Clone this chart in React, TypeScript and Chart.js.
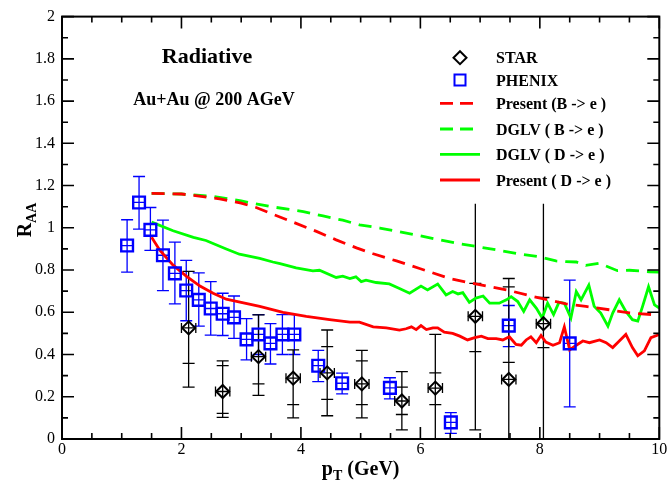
import React, { useEffect, useRef } from "react";
import { Chart, registerables } from "chart.js";

Chart.register(...registerables);

// ---------------- data ----------------
const starX = [2.12, 2.69, 3.29, 3.87, 4.44, 5.02, 5.69, 6.25, 6.92, 7.48, 8.06];
const starY = [0.526, 0.225, 0.39, 0.288, 0.313, 0.261, 0.18, 0.241, 0.581, 0.282, 0.546];
const starHi = [0.794, 0.37, 0.588, 0.422, 0.516, 0.42, 0.319, 0.495, 1.114, 0.76, 1.114];
const starLo = [0.246, 0.102, 0.207, 0.1, 0.11, 0.1, 0.043, 0, 0.043, 0, 0];
const starSysHi = [null, 0.347, null, null, 0.437, 0.37, 0.246, 0.313, 0.737, 0.72, 0.67];
const starSysLo = [0.358, 0.121, 0.261, 0.163, 0.188, 0.163, 0.116, 0.163, 0.414, 0.363, 0.433];
const starXErr = [0.12, 0.12, 0.12, 0.12, 0.12, 0.12, 0.12, 0.12, 0.12, 0.12, 0.12];

const phenixX = [1.09, 1.29, 1.48, 1.69, 1.89, 2.08, 2.29, 2.49, 2.69, 2.88, 3.09, 3.29, 3.49, 3.69, 3.89, 4.29, 4.69, 5.49, 6.51, 7.48, 8.5];
const phenixY = [0.916, 1.12, 0.99, 0.87, 0.784, 0.703, 0.659, 0.618, 0.593, 0.576, 0.472, 0.495, 0.453, 0.495, 0.495, 0.347, 0.264, 0.242, 0.079, 0.537, 0.453];
const phenixHi = [1.038, 1.243, 1.096, 1.036, 0.932, 0.846, 0.787, 0.745, 0.69, 0.677, 0.57, 0.589, 0.546, 0.589, 0.589, 0.42, 0.312, 0.29, 0.125, 0.632, 0.752];
const phenixLo = [0.79, 0.994, 0.893, 0.703, 0.64, 0.56, 0.534, 0.492, 0.49, 0.476, 0.375, 0.4, 0.355, 0.4, 0.4, 0.272, 0.214, 0.19, 0.027, 0.437, 0.152];

// Present (B -> e), dashed red
const presentBX = [1.5, 2.0, 2.36, 2.64, 3.0, 3.25, 3.53, 3.92, 4.26, 4.59, 4.93, 5.21, 5.6, 6.0, 6.49, 6.85, 7.49, 7.88, 8.44, 8.77, 9.16, 9.5, 9.89, 10.0];
const presentBY = [1.163, 1.16, 1.148, 1.137, 1.117, 1.096, 1.064, 1.021, 0.983, 0.943, 0.905, 0.877, 0.843, 0.806, 0.76, 0.738, 0.703, 0.675, 0.64, 0.628, 0.612, 0.597, 0.589, 0.589];

// DGLV (B -> e), dashed green
const dglvBX = [1.5, 2.0, 2.5, 3.0, 3.5, 4.04, 4.37, 4.7, 4.98, 5.32, 5.65, 5.99, 6.32, 6.66, 6.99, 7.32, 7.71, 7.99, 8.27, 8.44, 8.61, 8.77, 9.0, 9.3, 9.5, 9.67, 9.83, 10.0];
const dglvBY = [1.163, 1.16, 1.15, 1.127, 1.1, 1.077, 1.056, 1.036, 1.014, 0.999, 0.981, 0.963, 0.943, 0.924, 0.909, 0.893, 0.874, 0.863, 0.843, 0.84, 0.838, 0.822, 0.832, 0.797, 0.799, 0.796, 0.792, 0.79];

// DGLV (D -> e), solid green
const dglvDX = [1.5, 1.86, 2.2, 2.41, 2.75, 2.97, 3.31, 3.53, 3.65, 3.92, 4.2, 4.31, 4.59, 4.7, 4.82, 4.92, 5.01, 5.09, 5.26, 5.48, 5.65, 5.82, 6.01, 6.12, 6.29, 6.43, 6.54, 6.63, 6.71, 6.82, 6.93, 7.05, 7.16, 7.32, 7.44, 7.52, 7.63, 7.73, 7.83, 7.94, 8.04, 8.13, 8.23, 8.32, 8.41, 8.52, 8.61, 8.69, 8.82, 8.91, 9.02, 9.14, 9.22, 9.33, 9.44, 9.55, 9.64, 9.72, 9.82, 9.92, 10.0];
const dglvDY = [1.027, 0.986, 0.955, 0.94, 0.9, 0.875, 0.855, 0.838, 0.83, 0.81, 0.796, 0.799, 0.765, 0.771, 0.76, 0.768, 0.745, 0.752, 0.741, 0.734, 0.713, 0.69, 0.724, 0.706, 0.734, 0.682, 0.698, 0.687, 0.693, 0.647, 0.667, 0.677, 0.643, 0.643, 0.659, 0.674, 0.651, 0.604, 0.659, 0.62, 0.573, 0.643, 0.589, 0.647, 0.643, 0.573, 0.698, 0.659, 0.729, 0.628, 0.596, 0.534, 0.596, 0.659, 0.604, 0.565, 0.558, 0.628, 0.721, 0.635, 0.62];

// Present (D -> e), solid red
const presentDX = [1.5, 1.64, 1.86, 2.08, 2.31, 2.53, 2.75, 2.98, 3.31, 3.7, 4.09, 4.48, 4.82, 4.98, 5.21, 5.43, 5.65, 5.76, 5.85, 5.93, 6.01, 6.1, 6.21, 6.29, 6.4, 6.54, 6.66, 6.79, 6.91, 7.02, 7.13, 7.27, 7.38, 7.49, 7.6, 7.69, 7.77, 7.85, 7.94, 8.02, 8.1, 8.22, 8.33, 8.41, 8.5, 8.61, 8.72, 8.83, 9.0, 9.11, 9.22, 9.33, 9.44, 9.55, 9.64, 9.75, 9.86, 10.0];
const presentDY = [0.955, 0.893, 0.823, 0.771, 0.724, 0.69, 0.662, 0.648, 0.628, 0.6, 0.581, 0.565, 0.553, 0.553, 0.531, 0.526, 0.516, 0.522, 0.531, 0.518, 0.537, 0.518, 0.526, 0.526, 0.506, 0.5, 0.487, 0.469, 0.48, 0.487, 0.475, 0.475, 0.469, 0.484, 0.448, 0.444, 0.469, 0.484, 0.456, 0.49, 0.459, 0.444, 0.456, 0.531, 0.422, 0.444, 0.464, 0.456, 0.469, 0.456, 0.433, 0.464, 0.495, 0.433, 0.394, 0.417, 0.48, 0.495];

const legendLabels = ["STAR", "PHENIX", "Present (B -> e )", "DGLV ( B -> e )", "DGLV ( D -> e )", "Present ( D -> e )"];
const titleText = "Radiative";
const subtitleText = "Au+Au @ 200 AGeV";

// ---------------- styles ----------------
const RED = "#ff0000";
const GREEN = "#00ff00";
const BLUE = "#0000ff";
const SERIF = "'Liberation Serif', 'Times New Roman', serif";

const pts = (xs: number[], ys: number[]) => xs.map((x, i) => ({ x, y: ys[i] }));

const customPlugin = {
  id: "custom",
  beforeDatasetsDraw(chart: any) {
    const ctx = chart.ctx;
    const xs = chart.scales.x;
    const ys = chart.scales.y;
    ctx.save();
    // PHENIX error bars
    ctx.strokeStyle = BLUE;
    ctx.lineWidth = 1.3;
    phenixX.forEach((x, i) => {
      const px = xs.getPixelForValue(x);
      const ph = ys.getPixelForValue(phenixHi[i]);
      const pl = ys.getPixelForValue(phenixLo[i]);
      const py = ys.getPixelForValue(phenixY[i]);
      ctx.beginPath();
      ctx.moveTo(px, ph); ctx.lineTo(px, pl);
      ctx.moveTo(px - 6, ph); ctx.lineTo(px + 6, ph);
      ctx.moveTo(px - 6, pl); ctx.lineTo(px + 6, pl);
      ctx.moveTo(px - 5.5, py); ctx.lineTo(px + 5.5, py);
      ctx.stroke();
    });
    // STAR error bars
    ctx.strokeStyle = "#000";
    ctx.lineWidth = 1.3;
    starX.forEach((x, i) => {
      const px = xs.getPixelForValue(x);
      const py = ys.getPixelForValue(starY[i]);
      const ph = ys.getPixelForValue(starHi[i]);
      const pl = ys.getPixelForValue(starLo[i]);
      ctx.beginPath();
      ctx.moveTo(px, ph); ctx.lineTo(px, pl);
      const caps: number[] = [];
      if (starHi[i] < 1.05) caps.push(ph);
      if (starLo[i] > 0) caps.push(pl);
      if (starSysHi[i] != null) caps.push(ys.getPixelForValue(starSysHi[i] as number));
      if (starSysLo[i] != null) caps.push(ys.getPixelForValue(starSysLo[i] as number));
      caps.forEach((c) => { ctx.moveTo(px - 6, c); ctx.lineTo(px + 6, c); });
      const xl = xs.getPixelForValue(x - starXErr[i]);
      const xr = xs.getPixelForValue(x + starXErr[i]);
      ctx.moveTo(xl, py); ctx.lineTo(xr, py);
      ctx.moveTo(xl, py - 5); ctx.lineTo(xl, py + 5);
      ctx.moveTo(xr, py - 5); ctx.lineTo(xr, py + 5);
      ctx.stroke();
    });
    ctx.restore();
  },
  afterDatasetsDraw(chart: any) {
    const ctx = chart.ctx;
    const a = chart.chartArea;
    const xs = chart.scales.x;
    const ys = chart.scales.y;
    ctx.save();
    // frame
    ctx.strokeStyle = "#000";
    ctx.lineWidth = 2;
    ctx.strokeRect(a.left, a.top, a.right - a.left, a.bottom - a.top);
    // ticks
    ctx.lineWidth = 1.6;
    ctx.beginPath();
    for (let k = 0; k <= 20; k++) {
      const v = k * 0.5;
      const px = xs.getPixelForValue(v);
      const len = k % 4 === 0 ? 12 : 6;
      ctx.moveTo(px, a.bottom); ctx.lineTo(px, a.bottom - len);
      ctx.moveTo(px, a.top); ctx.lineTo(px, a.top + len);
    }
    for (let k = 0; k <= 20; k++) {
      const v = k * 0.1;
      const py = ys.getPixelForValue(v);
      const len = k % 2 === 0 ? 12 : 6;
      ctx.moveTo(a.left, py); ctx.lineTo(a.left + len, py);
      ctx.moveTo(a.right, py); ctx.lineTo(a.right - len, py);
    }
    ctx.stroke();

    // titles inside plot
    ctx.fillStyle = "#000";
    ctx.textAlign = "center";
    ctx.textBaseline = "alphabetic";
    ctx.font = `bold 22px ${SERIF}`;
    ctx.fillText(titleText, 207, 63);
    ctx.font = `bold 18px ${SERIF}`;
    ctx.fillText(subtitleText, 214, 105);

    // legend
    const rows = [57.7, 80, 103.3, 129, 154.3, 180];
    const symX = 460, lineL = 440, lineR = 480, textX = 496;
    ctx.font = `bold 16px ${SERIF}`;
    ctx.textAlign = "left";
    rows.forEach((ry, i) => {
      ctx.fillStyle = "#000";
      ctx.fillText(legendLabels[i], textX, ry + 5.5);
    });
    // STAR diamond
    ctx.strokeStyle = "#000";
    ctx.lineWidth = 2;
    ctx.beginPath();
    ctx.moveTo(symX, rows[0] - 6.5); ctx.lineTo(symX + 6.5, rows[0]);
    ctx.lineTo(symX, rows[0] + 6.5); ctx.lineTo(symX - 6.5, rows[0]); ctx.closePath();
    ctx.stroke();
    // PHENIX square
    ctx.strokeStyle = BLUE;
    ctx.strokeRect(symX - 5.5, rows[1] - 5.5, 11, 11);
    const legLine = (y: number, color: string, dashed: boolean) => {
      ctx.strokeStyle = color;
      ctx.lineWidth = 2.8;
      ctx.setLineDash(dashed ? [13, 7] : []);
      ctx.beginPath();
      ctx.moveTo(lineL, y); ctx.lineTo(lineR, y);
      ctx.stroke();
      ctx.setLineDash([]);
    };
    legLine(rows[2], RED, true);
    legLine(rows[3], GREEN, true);
    legLine(rows[4], GREEN, false);
    legLine(rows[5], RED, false);

    // axis titles
    ctx.fillStyle = "#000";
    const cx = (a.left + a.right) / 2;
    ctx.font = `bold 20px ${SERIF}`;
    const wP = ctx.measureText("p").width;
    const wRest = ctx.measureText(" (GeV)").width;
    ctx.font = `bold 14px ${SERIF}`;
    const wT = ctx.measureText("T").width;
    const total = wP + wT + wRest;
    const sx = cx - total / 2;
    const by = 475;
    ctx.textAlign = "left";
    ctx.font = `bold 20px ${SERIF}`;
    ctx.fillText("p", sx, by);
    ctx.font = `bold 14px ${SERIF}`;
    ctx.fillText("T", sx + wP, by + 5);
    ctx.font = `bold 20px ${SERIF}`;
    ctx.fillText(" (GeV)", sx + wP + wT, by);

    ctx.save();
    ctx.translate(31, 220);
    ctx.rotate(-Math.PI / 2);
    ctx.font = `bold 20px ${SERIF}`;
    const wR = ctx.measureText("R").width;
    ctx.font = `bold 14px ${SERIF}`;
    const wAA = ctx.measureText("AA").width;
    const tw = wR + wAA;
    ctx.font = `bold 20px ${SERIF}`;
    ctx.fillText("R", -tw / 2, 0);
    ctx.font = `bold 14px ${SERIF}`;
    ctx.fillText("AA", -tw / 2 + wR, 5);
    ctx.restore();

    ctx.restore();
  },
};

export default function App() {
  const ref = useRef<HTMLCanvasElement | null>(null);
  useEffect(() => {
    if (!ref.current) return;
    const lineDs = (label: string, xs: number[], ys: number[], color: string, dashed: boolean) => ({
      type: "line" as const,
      label,
      data: pts(xs, ys),
      borderColor: color,
      backgroundColor: color,
      borderWidth: 2.8,
      borderDash: dashed ? [13, 8] : [],
      pointRadius: 0,
      showLine: true,
      tension: 0,
      fill: false,
      order: 5,
    });
    const chart = new Chart(ref.current, {
      type: "scatter",
      data: {
        datasets: [
          lineDs(legendLabels[2], presentBX, presentBY, RED, true),
          lineDs(legendLabels[3], dglvBX, dglvBY, GREEN, true),
          lineDs(legendLabels[4], dglvDX, dglvDY, GREEN, false),
          lineDs(legendLabels[5], presentDX, presentDY, RED, false),
          {
            label: "STAR",
            data: pts(starX, starY),
            pointStyle: "rectRot",
            pointRadius: 6.5,
            borderColor: "#000",
            backgroundColor: "rgba(0,0,0,0)",
            borderWidth: 2,
            order: 1,
          } as any,
          {
            label: "PHENIX",
            data: pts(phenixX, phenixY),
            pointStyle: "rect",
            pointRadius: 8.3,
            borderColor: BLUE,
            backgroundColor: "rgba(0,0,0,0)",
            borderWidth: 2.4,
            order: 1,
          } as any,
        ],
      },
      options: {
        animation: false,
        responsive: false,
        events: [],
        layout: { padding: { top: 11, right: 10, left: 0, bottom: 0 } },
        plugins: { legend: { display: false }, tooltip: { enabled: false } },
        scales: {
          x: {
            type: "linear",
            min: 0,
            max: 10,
            grid: { display: false, drawTicks: false },
            border: { display: false },
            ticks: {
              stepSize: 2,
              padding: 1,
              color: "#000",
              font: { family: SERIF, size: 16 },
              maxRotation: 0,
            },
            afterFit: (s: any) => { s.height = 48; },
          },
          y: {
            type: "linear",
            min: 0,
            max: 2,
            grid: { display: false, drawTicks: false },
            border: { display: false },
            ticks: {
              stepSize: 0.2,
              padding: 7,
              color: "#000",
              font: { family: SERIF, size: 16 },
              callback: (v: any) => String(Math.round(Number(v) * 10) / 10),
            },
            afterFit: (s: any) => { s.width = 62; },
          },
        },
      },
      plugins: [customPlugin],
    } as any);
    return () => chart.destroy();
  }, []);
  return (
    <div style={{ position: "absolute", left: 0, top: 0, width: 670, height: 487, background: "#fff" }}>
      <canvas ref={ref} width={670} height={487} />
    </div>
  );
}
